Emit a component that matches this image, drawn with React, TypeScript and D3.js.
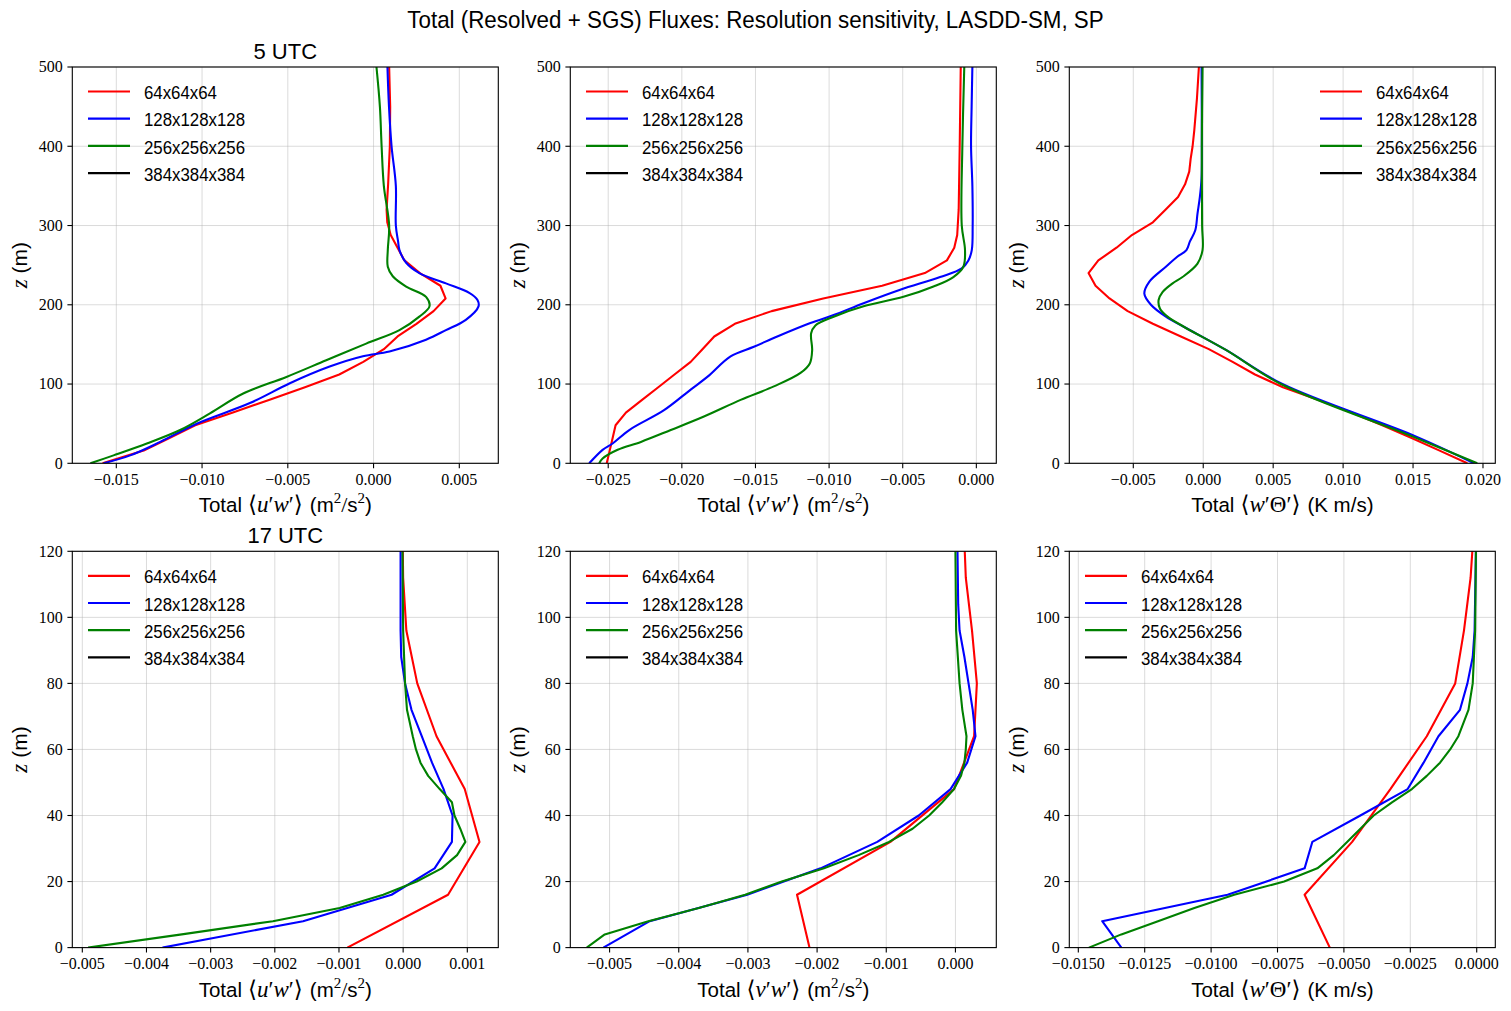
import React from 'react';
import * as d3 from 'd3';

// legend entries / series names
const resolutions = ['64x64x64', '128x128x128', '256x256x256', '384x384x384'];
const lineColors = ['#ff0000', '#0000ff', '#008000', '#000000'];

// profiles are [z (m), flux] pairs

// 5 UTC  <u'w'>
const uw05_64 = [[0, -0.0158], [16, -0.0134], [32, -0.0119], [48, -0.0104], [64, -0.0082], [80, -0.0061], [96, -0.004], [112, -0.002], [128, -0.0006], [144, 0.0006], [160, 0.0014], [176, 0.0025], [192, 0.0035], [208, 0.0042], [224, 0.0039], [240, 0.0027], [256, 0.0018], [272, 0.0014], [288, 0.001], [304, 0.0008], [320, 0.00076], [352, 0.00085], [400, 0.00095], [450, 0.00097], [500, 0.00091]];
const uw05_128 = [[0, -0.01574], [10, -0.01419], [27, -0.01244], [50, -0.01031], [76, -0.00721], [101, -0.00488], [122, -0.00256], [135, -0.00062], [141, 0.00093], [156, 0.00306], [168, 0.00422], [181, 0.00538], [198, 0.00612], [206, 0.00606], [215, 0.00558], [227, 0.00422], [240, 0.00267], [253, 0.0019], [269, 0.00151], [280, 0.00143], [300, 0.0013], [350, 0.0013], [400, 0.00105], [450, 0.0009], [500, 0.00081]];
const uw05_256 = [[0, -0.01651], [10, -0.01516], [25, -0.01322], [42, -0.01128], [63, -0.00954], [88, -0.0076], [109, -0.00508], [130, -0.00276], [151, -0.00043], [168, 0.00151], [185, 0.00267], [198, 0.00326], [210, 0.00306], [223, 0.0019], [236, 0.00112], [248, 0.00083], [269, 0.00083], [300, 0.00091], [350, 0.0006], [400, 0.00047], [450, 0.00037], [500, 0.00017]];

// 5 UTC  <v'w'>
const vw05_64 = [[0, -0.0251], [16, -0.0249], [32, -0.0247], [48, -0.0245], [64, -0.0238], [80, -0.0227], [96, -0.0216], [112, -0.0205], [128, -0.0194], [144, -0.0186], [160, -0.0178], [176, -0.0164], [192, -0.0139], [208, -0.0104], [224, -0.0064], [240, -0.0035], [256, -0.002], [272, -0.0015], [288, -0.0013], [320, -0.0012], [400, -0.00113], [500, -0.00106]];
const vw05_128 = [[0, -0.02629], [17, -0.02538], [25, -0.0247], [42, -0.02357], [67, -0.02121], [93, -0.0194], [109, -0.01827], [135, -0.01669], [147, -0.01511], [160, -0.01352], [177, -0.01127], [187, -0.00969], [202, -0.00766], [219, -0.00517], [235, -0.00246], [246, -0.00099], [256, -0.00054], [269, -0.00031], [300, -0.00025], [350, -0.00027], [400, -0.00036], [450, -0.00032], [500, -0.00027]];
const vw05_256 = [[0, -0.02561], [6, -0.02538], [17, -0.02436], [27, -0.02278], [42, -0.02075], [59, -0.0185], [80, -0.01601], [97, -0.01375], [114, -0.01194], [126, -0.01131], [143, -0.01115], [164, -0.01122], [174, -0.01093], [185, -0.00969], [198, -0.00766], [210, -0.00495], [223, -0.00291], [235, -0.00156], [248, -0.00088], [269, -0.00077], [300, -0.00099], [400, -0.00095], [500, -0.00082]];

// 5 UTC  <w'theta'>
const wt05_64 = [[0, 0.01888], [16, 0.0169], [32, 0.0149], [48, 0.0128], [64, 0.0106], [80, 0.0082], [96, 0.0057], [112, 0.0037], [128, 0.0021], [144, 0.0004], [160, -0.0016], [176, -0.0036], [192, -0.0054], [208, -0.0067], [224, -0.0077], [240, -0.0082], [256, -0.0075], [272, -0.0062], [288, -0.0051], [304, -0.0036], [320, -0.0027], [336, -0.0018], [352, -0.0013], [368, -0.001], [384, -0.0009], [400, -0.00076], [420, -0.00064], [460, -0.00045], [500, -0.00031]];
const wt05_128 = [[0, 0.01936], [34, 0.01519], [100, 0.00566], [143, 0.00162], [172, -0.00136], [185, -0.00267], [200, -0.00374], [214, -0.00421], [229, -0.00386], [248, -0.00267], [260, -0.0019], [269, -0.0012], [280, -0.00095], [294, -0.00057], [315, -0.00041], [336, -0.00024], [360, -0.00012], [400, -0.0001], [500, -0.00012]];
const wt05_256 = [[0, 0.01959], [34, 0.01495], [100, 0.00555], [143, 0.00162], [172, -0.00136], [185, -0.00255], [195, -0.00309], [206, -0.00319], [216, -0.00291], [227, -0.00219], [235, -0.00148], [252, -0.00041], [269, -0.00005], [300, -0.00008], [400, -0.0001], [500, -0.00005]];

// 17 UTC  <u'w'>
const uw17_64 = [[0, -0.00087], [16, 0.0007], [32, 0.00119], [48, 0.00096], [64, 0.00052], [80, 0.00022], [96, 0.00005], [112, 0.0], [128, -0.00001]];
const uw17_128 = [[0, -0.00375], [8, -0.00156], [16, -0.00018], [24, 0.00049], [32, 0.00076], [40, 0.00077], [48, 0.00063], [56, 0.00045], [64, 0.00029], [72, 0.00013], [80, 0.00003], [88, -0.00003], [96, -0.00004], [120, -0.00004]];
const uw17_256 = [[0, -0.00491], [4, -0.00345], [8, -0.00203], [12, -0.00099], [16, -0.00031], [20, 0.00021], [24, 0.0006], [28, 0.00084], [32, 0.00097], [36, 0.00089], [40, 0.0008], [44, 0.00076], [48, 0.00057], [52, 0.00039], [56, 0.00027], [60, 0.0002], [64, 0.00015], [72, 0.00006], [80, 0.00003], [96, 0.0], [120, -0.00001]];

// 17 UTC  <v'w'>
const vw17_64 = [[0, -0.00211], [16, -0.00229], [32, -0.00094], [48, -0.00002], [64, 0.00027], [80, 0.00031], [96, 0.00024], [112, 0.00015], [128, 0.00012]];
const vw17_128 = [[0, -0.00509], [8, -0.00442], [16, -0.00301], [24, -0.00195], [32, -0.00113], [40, -0.00053], [48, -0.00007], [56, 0.00017], [64, 0.00029], [72, 0.00025], [80, 0.00019], [88, 0.00013], [96, 0.00006], [104, 0.00004], [120, 0.00003]];
const vw17_256 = [[0, -0.00533], [4, -0.00507], [8, -0.00444], [12, -0.00371], [16, -0.00304], [20, -0.00251], [24, -0.0019], [28, -0.0014], [32, -0.00096], [36, -0.00062], [40, -0.00038], [44, -0.00019], [48, -0.00002], [52, 0.00008], [56, 0.00013], [60, 0.00015], [64, 0.00016], [72, 0.0001], [80, 0.00006], [96, 0.00001], [120, 0.0]];

// 17 UTC  <w'theta'>
const wt17_64 = [[0, -0.00553], [16, -0.00648], [32, -0.00469], [48, -0.00325], [64, -0.00188], [80, -0.00081], [96, -0.00048], [112, -0.00023], [128, -0.0001]];
const wt17_128 = [[0, -0.01338], [8, -0.0141], [16, -0.00938], [24, -0.00648], [32, -0.00619], [40, -0.00438], [48, -0.0026], [56, -0.002], [64, -0.00144], [72, -0.00063], [80, -0.00035], [88, -0.00015], [96, -0.00008], [120, -0.00003]];
const wt17_256 = [[0, -0.0146], [4, -0.01338], [8, -0.012], [12, -0.01063], [16, -0.00913], [20, -0.00725], [24, -0.006], [28, -0.00538], [32, -0.00488], [36, -0.00438], [40, -0.00388], [44, -0.00319], [48, -0.00244], [52, -0.00188], [56, -0.00138], [60, -0.001], [64, -0.00069], [72, -0.00031], [80, -0.00015], [96, -0.00006], [120, -0.00003]];

// axis limits and ticks
const ticks05z = [0, 100, 200, 300, 400, 500];
const ticks17z = [0, 20, 40, 60, 80, 100, 120];
const ticksUw05 = [-0.015, -0.01, -0.005, 0, 0.005];
const ticksVw05 = [-0.025, -0.02, -0.015, -0.01, -0.005, 0];
const ticksWt05 = [-0.005, 0, 0.005, 0.01, 0.015, 0.02];
const ticksUw17 = [-0.005, -0.004, -0.003, -0.002, -0.001, 0, 0.001];
const ticksVw17 = [-0.005, -0.004, -0.003, -0.002, -0.001, 0];
const ticksWt17 = [-0.015, -0.0125, -0.01, -0.0075, -0.005, -0.0025, 0];

const W = 1511, H = 1011;
const colLeft = [72.3, 570.3, 1069.3];
const rowTop = [67, 551.3];
const axW = 426, axH = 396.3;

const SANS = "'Liberation Sans', Arial, sans-serif";
const SERIF = "'Liberation Serif', 'DejaVu Serif', serif";
const NARROW = 0.91; // the original sans face is narrower than Liberation Sans

function XLabel({ kind, x, y }) {
  const sup = (t) => <tspan fontFamily={SERIF} fontSize={15} dy={-9}>{t}</tspan>;
  let math, unit;
  if (kind === 'wt') {
    math = <tspan fontFamily={SERIF} fontSize={23} dx={6}>{'\u27e8'}<tspan fontStyle="italic">w</tspan>{'\u2032\u0398\u2032\u27e9'}</tspan>;
    unit = <tspan dx={7}>{'(K m/s)'}</tspan>;
  } else {
    math = <tspan fontFamily={SERIF} fontSize={23} dx={6}>{'\u27e8'}<tspan fontStyle="italic">{kind === 'uw' ? 'u' : 'v'}</tspan>{'\u2032'}<tspan fontStyle="italic">w</tspan>{'\u2032\u27e9'}</tspan>;
    unit = <>
      <tspan dx={7}>{'(m'}</tspan>{sup('2')}<tspan dy={9} fontFamily={SERIF} fontSize={22}>/</tspan><tspan>s</tspan>{sup('2')}<tspan dy={9}>)</tspan>
    </>;
  }
  return (
    <text x={x} y={y} textAnchor="middle" fontFamily={SANS} fontSize={20.5} fill="#000">
      <tspan>{'Total'}</tspan>{math}{unit}
    </text>
  );
}

function Panel({ cfg, idx }) {
  const x0 = colLeft[cfg.col], y0 = rowTop[cfg.row];
  const x = d3.scaleLinear().domain(cfg.xDomain).range([x0, x0 + axW]);
  const y = d3.scaleLinear().domain(cfg.zDomain).range([y0 + axH, y0]);
  const fmt = d3.format(cfg.fmt);
  const clipId = 'clip' + idx;
  const mkLine = (smooth) => d3.line()
    .x(d => x(d[1]))
    .y(d => y(d[0]))
    .curve(smooth ? d3.curveCatmullRom.alpha(0.5) : d3.curveLinear);
  const tickLen = 4.9;

  const legX = cfg.legendRight ? x0 + axW - 175.3 : x0 + 15.7;
  const legRows = [24.5, 51.7, 78.9, 106.1];

  return (
    <g>
      <defs>
        <clipPath id={clipId}><rect x={x0} y={y0} width={axW} height={axH} /></clipPath>
      </defs>
      {/* grid */}
      <g stroke="#b0b0b0" strokeOpacity={0.45} strokeWidth={1}>
        {cfg.xTicks.map((t, i) => <line key={'gx' + i} x1={x(t)} x2={x(t)} y1={y0} y2={y0 + axH} />)}
        {cfg.zTicks.map((t, i) => <line key={'gy' + i} x1={x0} x2={x0 + axW} y1={y(t)} y2={y(t)} />)}
      </g>
      {/* profiles */}
      <g clipPath={`url(#${clipId})`} fill="none" strokeWidth={2.1} strokeLinejoin="round">
        {cfg.series.map((s, i) => (
          <path key={i} d={mkLine(cfg.smooth && i > 0)(s)} stroke={lineColors[i]} />
        ))}
      </g>
      {/* legend */}
      <g>
        {resolutions.map((r, i) => (
          <g key={r}>
            <line x1={legX} x2={legX + 42} y1={y0 + legRows[i]} y2={y0 + legRows[i]} stroke={lineColors[i]} strokeWidth={2.2} />
            <text transform={`translate(${legX + 56},${y0 + legRows[i] + 7.6}) scale(${NARROW},1)`} fontFamily={SANS} fontSize={18.5} fill="#000">{r}</text>
          </g>
        ))}
      </g>
      {/* spines */}
      <rect x={x0} y={y0} width={axW} height={axH} fill="none" stroke="#000" strokeWidth={1.1} />
      {/* x ticks */}
      {cfg.xTicks.map((t, i) => (
        <g key={'tx' + i}>
          <line x1={x(t)} x2={x(t)} y1={y0 + axH} y2={y0 + axH + tickLen} stroke="#000" strokeWidth={1.1} />
          <text x={x(t)} y={y0 + axH + 21.5} textAnchor="middle" fontFamily={SERIF} fontSize={16} fill="#000">{fmt(t)}</text>
        </g>
      ))}
      {/* z ticks */}
      {cfg.zTicks.map((t, i) => (
        <g key={'tz' + i}>
          <line x1={x0 - tickLen} x2={x0} y1={y(t)} y2={y(t)} stroke="#000" strokeWidth={1.1} />
          <text x={x0 - 9.5} y={y(t) + 5.4} textAnchor="end" fontFamily={SERIF} fontSize={16} fill="#000">{t}</text>
        </g>
      ))}
      <XLabel kind={cfg.kind} x={x0 + axW / 2} y={y0 + axH + 49} />
      <text transform={`translate(${x0 - 45},${y0 + axH / 2}) rotate(-90)`} textAnchor="middle" fontFamily={SANS} fontSize={21} fill="#000">
        <tspan fontFamily={SERIF} fontStyle="italic" fontSize={23}>z</tspan><tspan dx={6}>{'(m)'}</tspan>
      </text>
      {cfg.title && (
        <text x={x0 + axW / 2} y={y0 - 8} textAnchor="middle" fontFamily={SANS} fontSize={22} fill="#000">{cfg.title}</text>
      )}
    </g>
  );
}

const panels = [
  { row: 0, col: 0, kind: 'uw', title: '5 UTC', series: [uw05_64, uw05_128, uw05_256], xDomain: [-0.017566, 0.007274], xTicks: ticksUw05, fmt: '.3f', zDomain: [0, 500], zTicks: ticks05z, smooth: true },
  { row: 0, col: 1, kind: 'vw', series: [vw05_64, vw05_128, vw05_256], xDomain: [-0.027575, 0.001355], xTicks: ticksVw05, fmt: '.3f', zDomain: [0, 500], zTicks: ticks05z, smooth: true },
  { row: 0, col: 2, kind: 'wt', series: [wt05_64, wt05_128, wt05_256], xDomain: [-0.009575, 0.02088], xTicks: ticksWt05, fmt: '.3f', zDomain: [0, 500], zTicks: ticks05z, smooth: true, legendRight: true },
  { row: 1, col: 0, kind: 'uw', title: '17 UTC', series: [uw17_64, uw17_128, uw17_256], xDomain: [-0.005156, 0.001483], xTicks: ticksUw17, fmt: '.3f', zDomain: [0, 120], zTicks: ticks17z },
  { row: 1, col: 1, kind: 'vw', series: [vw17_64, vw17_128, vw17_256], xDomain: [-0.005568, 0.000591], xTicks: ticksVw17, fmt: '.3f', zDomain: [0, 120], zTicks: ticks17z },
  { row: 1, col: 2, kind: 'wt', series: [wt17_64, wt17_128, wt17_256], xDomain: [-0.015339, 0.0007], xTicks: ticksWt17, fmt: '.4f', zDomain: [0, 120], zTicks: ticks17z },
];

export default function App() {
  return (
    <svg width={W} height={H} viewBox={`0 0 ${W} ${H}`} style={{ position: 'absolute', left: 0, top: 0, background: '#fff' }}>
      <rect x={0} y={0} width={W} height={H} fill="#fff" />
      <text transform={`translate(${W / 2},28) scale(0.933,1)`} textAnchor="middle" fontFamily={SANS} fontSize={24} fill="#000">
        Total (Resolved + SGS) Fluxes: Resolution sensitivity, LASDD-SM, SP
      </text>
      {panels.map((p, i) => <Panel key={i} cfg={p} idx={i} />)}
    </svg>
  );
}
